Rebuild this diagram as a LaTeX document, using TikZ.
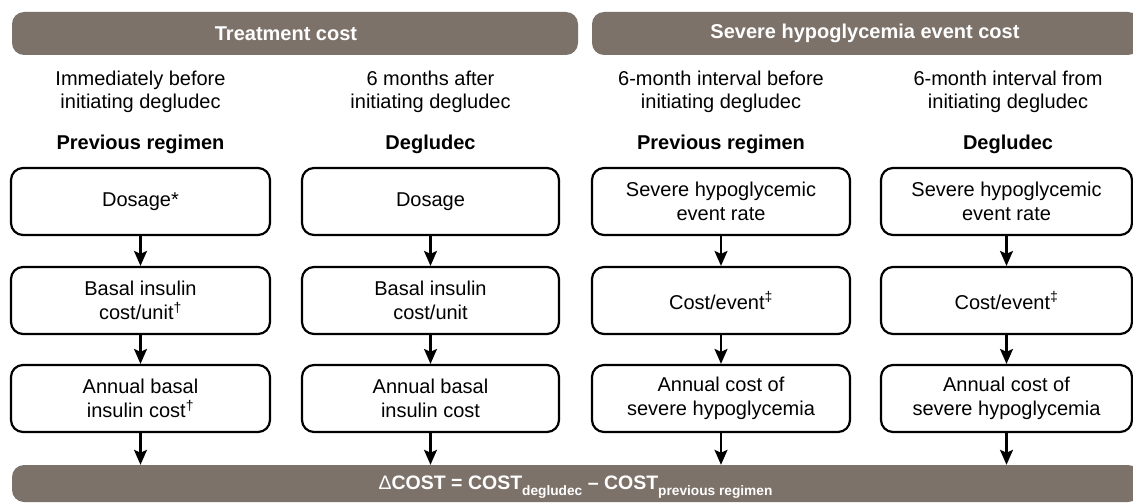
\documentclass[tikz,border=0pt]{standalone}
\usepackage{fontspec}
\setmainfont{Liberation Sans}
\usetikzlibrary{arrows.meta}
\definecolor{banner}{RGB}{125,114,106}
\begin{document}
\begin{tikzpicture}[x=1pt,y=-1pt,
 box/.style={draw, line width=2.2pt, rounded corners=12pt, align=center, font=\fontsize{20}{24.5}\selectfont, inner sep=0pt, minimum height=67pt},
 band/.style={fill=banner, rounded corners=12pt, inner sep=0pt},
 bandtext/.style={inner sep=0pt, text=white, font=\fontsize{20}{24}\selectfont\bfseries},
 hdr/.style={align=center, font=\fontsize{20}{23.5}\selectfont, inner sep=0pt},
 sub/.style={font=\fontsize{20}{25}\selectfont\bfseries, inner sep=0pt, anchor=base},
 arr/.style={line width=2.2pt, -{Stealth[length=15pt,width=13pt,inset=3pt]}}]
\useasboundingbox (0,0) rectangle (1133,503);
% banners
\node[band, minimum width=566pt, minimum height=43pt] (tb) at (295,33.5) {};
\node[bandtext] (tbt) at (286,33.5) {Treatment cost};
\node[band, minimum width=548pt, minimum height=43pt] (sb) at (866,33.5) {};
\node[bandtext] (sbt) at (865,33.5) {Severe hypoglycemia event cost};
\node[band, minimum width=1128pt, minimum height=37pt] (bot) at (576,483.5) {};
\node[inner sep=0pt, text=white, font=\fontsize{19.5}{24}\selectfont, anchor=base] (formula) at (575.5,489.5)
 {Δ\bfseries COST = COST\raisebox{-5.5pt}{\fontsize{13.7}{14}\selectfont degludec} – COST\raisebox{-5.5pt}{\fontsize{13.7}{14}\selectfont previous regimen}};
% headers
\node[hdr] (h1) at (140.5,92) {Immediately before\\initiating degludec};
\node[hdr] (h2) at (430.5,92) {6 months after\\initiating degludec};
\node[hdr] (h3) at (721,92) {6-month interval before\\initiating degludec};
\node[hdr] (h4) at (1008,92) {6-month interval from\\initiating degludec};
\node[sub] (s1) at (140.5,149) {Previous regimen};
\node[sub] (s2) at (430.5,149) {Degludec};
\node[sub] (s3) at (721,149) {Previous regimen};
\node[sub] (s4) at (1008,149) {Degludec};
% column 1
\node[box, minimum width=259pt] (a1) at (140.5,201.5) {Dosage*};
\node[box, minimum width=259pt] (a2) at (140.5,300.5) {Basal insulin\\cost/unit\textsuperscript{†}};
\node[box, minimum width=259pt] (a3) at (140.5,398.5) {Annual basal\\insulin cost\textsuperscript{†}};
% column 2
\node[box, minimum width=257pt] (b1) at (430.5,201.5) {Dosage};
\node[box, minimum width=257pt] (b2) at (430.5,300.5) {Basal insulin\\cost/unit};
\node[box, minimum width=257pt] (b3) at (430.5,398.5) {Annual basal\\insulin cost};
% column 3
\node[box, minimum width=258pt] (c1) at (721,201.5) {Severe hypoglycemic\\event rate};
\node[box, minimum width=258pt] (c2) at (721,300.5) {Cost/event\textsuperscript{‡}};
\node[box, minimum width=258pt] (c3) at (721,398.5) {Annual cost of\\severe hypoglycemia};
% column 4
\node[box, minimum width=251pt] (d1) at (1006.5,201.5) {Severe hypoglycemic\\event rate};
\node[box, minimum width=251pt] (d2) at (1006.5,300.5) {Cost/event\textsuperscript{‡}};
\node[box, minimum width=251pt] (d3) at (1006.5,398.5) {Annual cost of\\severe hypoglycemia};
% arrows
\foreach \c in {a,b,c,d}{
  \draw[arr] (\c1) -- (\c2);
  \draw[arr] (\c2) -- (\c3);
  \draw[arr] (\c3.south) -- (\c3.south |- bot.north);
}
\end{tikzpicture}
\end{document}
